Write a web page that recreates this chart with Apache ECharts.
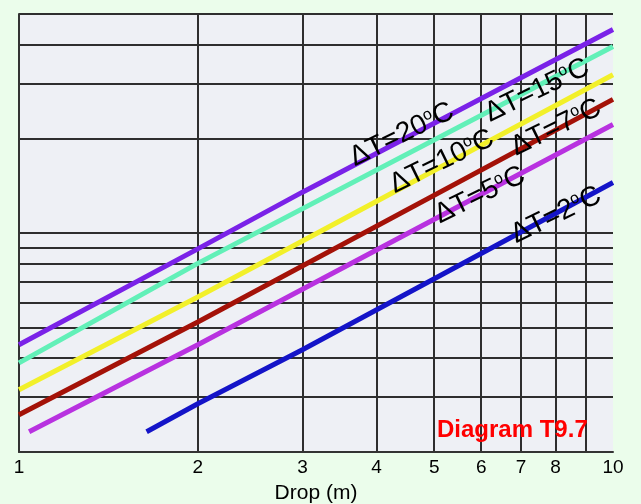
<!DOCTYPE html>
<html>
<head>
<meta charset="utf-8">
<script src="https://cdn.jsdelivr.net/npm/echarts@6/dist/echarts.min.js"></script>
<style>
html,body{margin:0;padding:0;background:#ebfdeb;}
#c{width:641px;height:504px;}
</style>
</head>
<body>
<div id="c"></div>
<script>
// Data (log-log chart, straight lines)
const xTickValues = [1, 2, 3, 4, 5, 6, 7, 8, 9];
const xLabelValues = [1, 2, 3, 4, 5, 6, 7, 8, 10];
const yGridValues = [2, 3, 4, 5, 6, 7, 8, 9, 10, 20, 30, 40, 50];

const dt20 = [[1, 4.4], [2, 8.9], [3, 13.5], [10, 44.6]];
const dt15 = [[1, 3.85], [2, 8.0], [10, 39.4]];
const dt10 = [[1, 3.16], [2, 6.25], [10, 32.0]];
const dt7  = [[1, 2.63], [2, 5.2], [10, 26.7]];
const dt5  = [[1.04, 2.32], [2, 4.4], [10, 22.2]];
const dt2  = [[1.64, 2.32], [2, 2.85], [3, 4.24], [10, 14.5]];

const seriesNames = ['20', '15', '10', '7', '5', '2'];
const seriesData = [dt20, dt15, dt10, dt7, dt5, dt2];
const seriesColors = ['#7a22e8', '#62f0b8', '#f2f02a', '#a41208', '#b832e0', '#1414c8'];

const labelPositions = [[4.41, 20.6], [7.45, 28.5], [5.15, 16.9], [8.02, 21.7], [5.97, 13.2], [8.02, 11.4]];

const FONT = 'Liberation Sans, Arial, sans-serif';
const chart = echarts.init(document.getElementById('c'));

const lineSeries = seriesData.map((d, i) => ({
  type: 'line',
  name: 'dT' + seriesNames[i],
  data: d,
  showSymbol: false,
  symbol: 'none',
  lineStyle: { color: seriesColors[i], width: 5 },
  z: 3
}));

const labelSeries = {
  type: 'scatter',
  symbolSize: 1,
  itemStyle: { color: 'rgba(0,0,0,0)', opacity: 1 },
  z: 5,
  data: labelPositions.map((p, i) => ({ value: p, name: seriesNames[i] })),
  label: {
    show: true,
    position: 'inside',
    rotate: 26,
    color: '#000',
    opacity: 1,
    textBorderWidth: 0,
    fontFamily: FONT,
    fontSize: 28,
    formatter: p => 'ΔT=' + p.name + '{s|o}C',
    rich: {
      s: { fontSize: 16, padding: [0, 0, 13, 0], fontFamily: FONT, color: '#000', textBorderWidth: 0 }
    }
  },
  labelLayout: { hideOverlap: false }
};

chart.setOption({
  backgroundColor: '#ebfdeb',
  animation: false,
  grid: { left: 19, right: 28, top: 14, bottom: 52, show: true, backgroundColor: '#eef0f5', borderWidth: 0, containLabel: false, outerBoundsMode: 'none' },
  xAxis: {
    type: 'log', logBase: 10, min: 1, max: 10,
    name: 'Drop (m)', nameLocation: 'middle', nameGap: 31,
    nameTextStyle: { color: '#000', fontSize: 21, fontFamily: FONT },
    axisLine: { show: true, lineStyle: { color: '#333', width: 2 } },
    axisTick: { show: false, customValues: xTickValues },
    axisLabel: { customValues: xLabelValues, color: '#000', fontSize: 19, margin: 6, fontFamily: FONT },
    splitLine: { show: true, lineStyle: { color: '#2e2e2e', width: 2 } }
  },
  yAxis: {
    type: 'log', logBase: 10, min: 2, max: 50,
    axisLine: { show: true, lineStyle: { color: '#333', width: 2 } },
    axisTick: { show: false, customValues: yGridValues },
    axisLabel: { show: false, customValues: yGridValues },
    splitLine: { show: true, lineStyle: { color: '#2e2e2e', width: 2 } }
  },
  graphic: [{
    type: 'text',
    left: 437, top: 418,
    style: { text: 'Diagram T9.7', fill: '#ff0000', font: 'bold 24px ' + FONT },
    z: 10
  }],
  series: lineSeries.concat([labelSeries])
});
</script>
</body>
</html>
